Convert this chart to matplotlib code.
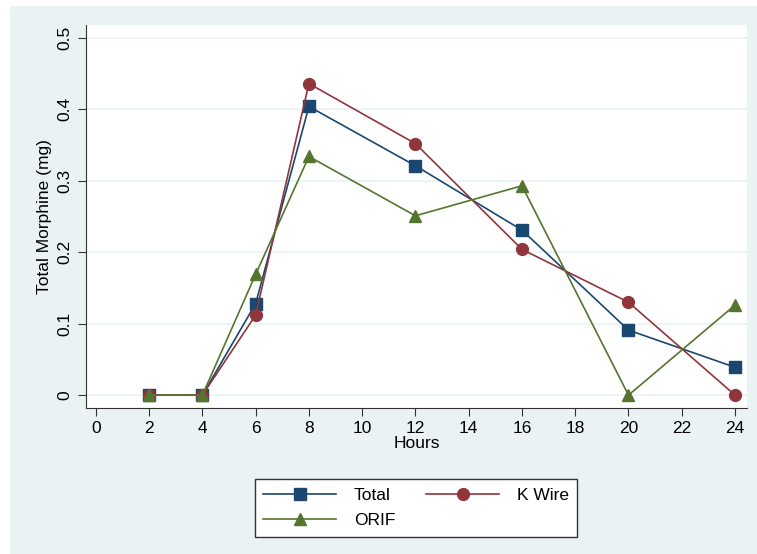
import matplotlib.pyplot as plt
from matplotlib.patches import Rectangle

plt.rcParams['font.family'] = ['Liberation Sans', 'DejaVu Sans']

# Data
hours = [2, 4, 6, 8, 12, 16, 20, 24]
total = [0, 0, 0.128, 0.404, 0.321, 0.231, 0.091, 0.039]
k_wire = [0, 0, 0.112, 0.436, 0.352, 0.204, 0.130, 0]
orif = [0, 0, 0.169, 0.334, 0.251, 0.293, 0, 0.126]

bg = '#eaf2f3'

fig = plt.figure(figsize=(7.57, 5.54), dpi=100)
fig.patch.set_facecolor('white')
fig.patches.append(Rectangle((10 / 757, 0), 1 - 10 / 757, 1 - 6 / 554,
                             transform=fig.transFigure, facecolor=bg,
                             edgecolor='none', zorder=-5))

ax = fig.add_axes([86 / 757, 146 / 554, 661 / 757, 383 / 554])
ax.set_facecolor('white')

l_total, = ax.plot(hours, total, marker='s', markersize=8, color='#1a476f', lw=1.2,
                   markerfacecolor='#1a476f', label='Total', zorder=3)
l_kw, = ax.plot(hours, k_wire, marker='o', markersize=8.5, color='#90353b', lw=1.2,
                markerfacecolor='#90353b', label='K Wire', zorder=3)
l_orif, = ax.plot(hours, orif, marker='^', markersize=9, color='#55752f', lw=1.2,
                  markerfacecolor='#55752f', label='ORIF', zorder=3)

ax.set_xlim(-0.37, 24.45)
ax.set_ylim(-0.018, 0.518)
ax.set_xticks(range(0, 25, 2))
ax.set_yticks([0, 0.1, 0.2, 0.3, 0.4, 0.5])
ax.set_yticklabels(['0', '0.1', '0.2', '0.3', '0.4', '0.5'], rotation=90, va='center')
ax.grid(axis='y', color=bg, lw=1.2)
ax.set_axisbelow(True)

for s in ['top', 'right']:
    ax.spines[s].set_visible(False)
for s in ['left', 'bottom']:
    ax.spines[s].set_color('#333333')
ax.tick_params(labelsize=12.5, length=6, color='#333333')

ax.set_xlabel('Hours', fontsize=12.5, labelpad=0)
ax.set_ylabel('Total Morphine (mg)', fontsize=12.5, labelpad=4)

# column-major fill: Total / ORIF in first column, K Wire in second
leg = fig.legend([l_total, l_orif, l_kw], ['Total', 'ORIF', 'K Wire'],
                 loc='center', bbox_to_anchor=(416 / 757, 1 - 508 / 554), ncol=2,
                 fontsize=12.5, frameon=True, fancybox=False, edgecolor='#333333',
                 facecolor='white', framealpha=1,
                 handlelength=4.2, columnspacing=1.8, borderpad=0.5,
                 labelspacing=0.6, handletextpad=1.0)
leg.get_frame().set_linewidth(1.0)

plt.savefig('out.png', dpi=100, facecolor=fig.get_facecolor())
